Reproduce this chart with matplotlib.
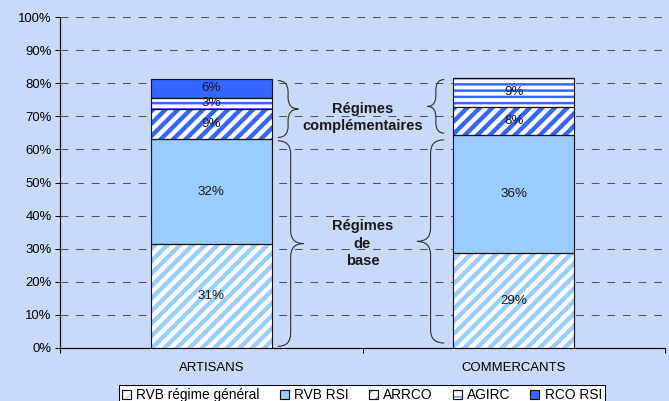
import matplotlib
matplotlib.use("Agg")
import matplotlib.pyplot as plt
import numpy as np
from matplotlib.path import Path
from matplotlib.patches import PathPatch
from matplotlib.legend_handler import HandlerTuple

categories = ["ARTISANS", "COMMERCANTS"]
series_names = ["RVB régime général", "RVB RSI", "ARRCO", "AGIRC", "RCO RSI"]
rvb_general = [31.4, 28.7]
rvb_rsi = [31.7, 35.7]
arrco = [9.1, 8.4]
agirc = [3.4, 8.8]
rco_rsi = [5.7, 0.0]
y_ticks = [0, 10, 20, 30, 40, 50, 60, 70, 80, 90, 100]
label_base = "Régimes\nde\nbase"
label_comp = "Régimes\ncomplémentaires"

BG = "#C9D9F9"
LIGHT = "#99CCFF"
BLUE = "#3366FF"

plt.rcParams['font.family'] = ['Liberation Sans', 'DejaVu Sans']
DPI = 75
fig = plt.figure(figsize=(669 / DPI, 401 / DPI), dpi=DPI, facecolor=BG)
ax = fig.add_axes([60 / 669, 1 - 348 / 401, 605 / 669, 331 / 401])
ax.set_facecolor(BG)

x = np.arange(len(categories))
width = 0.4
series = [rvb_general, rvb_rsi, arrco, agirc, rco_rsi]
styles = [
    dict(face="white", hcol=LIGHT, hatch="//", hlw=4.2),
    dict(face=LIGHT, hcol=None, hatch=None, hlw=1),
    dict(face="white", hcol=BLUE, hatch="//", hlw=4.2),
    dict(face="white", hcol=BLUE, hatch="--", hlw=2.4),
    dict(face=BLUE, hcol=None, hatch=None, hlw=1),
]

bottom = np.zeros(len(categories))
handles = []
for vals, st, name in zip(series, styles, series_names):
    v = np.array(vals, dtype=float)
    with plt.rc_context({'hatch.linewidth': st['hlw']}):
        if st['hatch']:
            b1 = ax.bar(x, v, width, bottom=bottom, color=st['face'], edgecolor=st['hcol'],
                        hatch=st['hatch'], linewidth=0, zorder=3)
        else:
            b1 = ax.bar(x, v, width, bottom=bottom, color=st['face'], linewidth=0, zorder=3)
    b2 = ax.bar(x, v, width, bottom=bottom, fill=False, edgecolor="#111111", linewidth=1.1, zorder=4)
    for xi, vi, bi in zip(x, v, bottom):
        if vi > 0.5:
            ax.text(xi, bi + vi / 2, f"{int(round(vi))}%", ha="center", va="center",
                    fontsize=12.8, color="#1a1a1a", zorder=5)
    handles.append((b1[0], b2[0]))
    bottom = bottom + v

base_tot = np.array(rvb_general) + np.array(rvb_rsi)
total = bottom


def brace(xs, yb, yt, w, direction, inset=0.5):
    yb = yb + inset
    yt = yt - inset
    ym = (yb + yt) / 2
    r = min(4.0, (yt - yb) / 5)
    xm = xs + direction * w / 2
    xt = xs + direction * w
    verts = [(xs, yt), (xm, yt), (xm, yt - r), (xm, ym + r), (xm, ym), (xt, ym),
             (xm, ym), (xm, ym - r), (xm, yb + r), (xm, yb), (xs, yb)]
    codes = [Path.MOVETO, Path.CURVE3, Path.CURVE3, Path.LINETO, Path.CURVE3, Path.CURVE3,
             Path.CURVE3, Path.CURVE3, Path.LINETO, Path.CURVE3, Path.CURVE3]
    ax.add_patch(PathPatch(Path(verts, codes), fill=False, edgecolor="#333333", lw=1.1, zorder=5))


brace(x[0] + width / 2 + 0.02, base_tot[0], total[0], 0.068, +1)
brace(x[0] + width / 2 + 0.02, 0, base_tot[0], 0.085, +1)
brace(x[1] - width / 2 - 0.03, base_tot[1], total[1], 0.055, -1)
brace(x[1] - width / 2 - 0.03, 0, base_tot[1], 0.09, -1, inset=1.5)

ax.text(0.5, (base_tot[0] + total[0]) / 2 - 2.5, label_comp, ha="center", va="center",
        fontsize=14, fontweight="bold", color="#1a1a1a", linespacing=1.3, zorder=6)
ax.text(0.5, base_tot[0] / 2, label_base, ha="center", va="center",
        fontsize=14, fontweight="bold", color="#1a1a1a", linespacing=1.3, zorder=6)

ax.set_xlim(-0.5, 1.5)
ax.set_ylim(0, 100)
ax.set_yticks(y_ticks)
ax.set_yticklabels([f"{t}%" for t in y_ticks], fontsize=12.6)
ax.set_xticks(x)
ax.set_xticklabels(categories, fontsize=12.6)
ax.set_xticks([-0.5, 0.5, 1.5], minor=True)
ax.tick_params(axis="x", which="major", length=0, pad=13)
ax.tick_params(axis="x", which="minor", length=5, width=1, direction="out")
ax.tick_params(axis="y", length=5, width=1, direction="out", pad=3)
ax.yaxis.grid(True, linestyle=(0, (7.5, 7.5)), color="#555555", linewidth=1, zorder=0)
ax.set_axisbelow(True)
for s in ["top", "right"]:
    ax.spines[s].set_visible(False)
for s in ["left", "bottom"]:
    ax.spines[s].set_color("black")
    ax.spines[s].set_linewidth(1.1)

leg = fig.legend(handles, series_names, loc="upper center", bbox_to_anchor=(362 / 669, 1 - 385 / 401),
                 ncol=5, fontsize=13.2, frameon=True, fancybox=False, edgecolor="black",
                 facecolor="white", framealpha=1, handlelength=0.67, handleheight=0.67,
                 handletextpad=0.37, columnspacing=1.45, borderpad=0.25, borderaxespad=0,
                 handler_map={tuple: HandlerTuple(ndivide=1)})
leg.get_frame().set_linewidth(1)

fig.savefig("out.png", dpi=DPI, facecolor=BG)
